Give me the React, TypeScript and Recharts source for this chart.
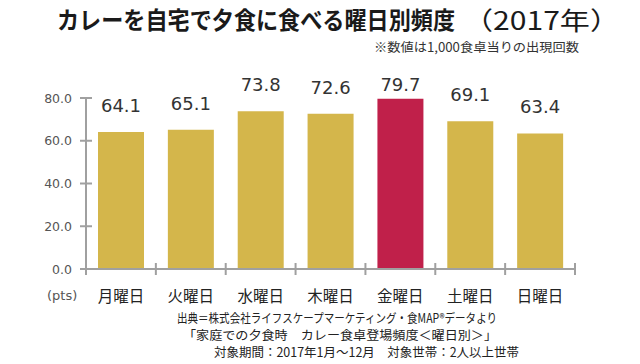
import React from "react";
import { BarChart, Bar, XAxis, YAxis, Cell, LabelList } from "recharts";

const days = ["月曜日", "火曜日", "水曜日", "木曜日", "金曜日", "土曜日", "日曜日"];
const counts = [64.1, 65.1, 73.8, 72.6, 79.7, 69.1, 63.4];
const yTicks = [0, 20, 40, 60, 80];

const title = "カレーを自宅で夕食に食べる曜日別頻度";
const titleYear = "（2017年）";
const note = "※数値は1,000食卓当りの出現回数";
const unit = "(pts)";
const sourceLines = [
  "出典＝株式会社ライフスケープマーケティング・食MAP®データより",
  "「家庭での夕食時　カレー食卓登場頻度＜曜日別＞」",
  "対象期間：2017年1月～12月　対象世帯：2人以上世帯",
];

const rows = days.map((day, i) => ({ day, count: counts[i] }));
const peak = Math.max(...counts);

const JP = '"Noto Sans CJK JP", "Noto Sans", sans-serif';
const NUM = '"DejaVu Sans", Verdana, sans-serif';
const AXIS = "#a0a0a0";
const GOLD = "#d4b64b";
const RED = "#c0204a";

// category labels, with the crossing tick marks on the category edges
function DayTick(props: any) {
  const { payload, index, visibleTicksCount } = props;
  const x = Number(props.x);
  const y = Number(props.y);
  const half = Number(props.width) / visibleTicksCount / 2;
  const last = index === visibleTicksCount - 1;
  return (
    <g>
      <path d={`M${x - half},${y - 6}V${y + 6}`} stroke={AXIS} strokeWidth={2} fill="none" />
      {last && <path d={`M${x + half},${y - 6}V${y + 6}`} stroke={AXIS} strokeWidth={2} fill="none" />}
      <text x={x} y={y + 26} textAnchor="middle" dominantBaseline="central" fontFamily={JP} fontSize={15.5} fill="#222">
        {payload.value}
      </text>
    </g>
  );
}

function ValueTick(props: any) {
  const { payload } = props;
  const x = Number(props.x);
  const y = Number(props.y);
  return (
    <g>
      <path d={`M${x - 6},${y}H${x + 6}`} stroke={AXIS} strokeWidth={2} fill="none" />
      <text x={x - 14} y={y} textAnchor="end" dominantBaseline="central" fontFamily={NUM} fontSize={12.5} fill="#555">
        {Number(payload.value).toFixed(1)}
      </text>
    </g>
  );
}

function BarValue(props: any) {
  const { x, y, width, value } = props;
  const cy = Math.max(Number(y) - 26.5, 84);
  return (
    <text x={Number(x) + Number(width) / 2} y={cy} textAnchor="middle" dominantBaseline="central" fontFamily={NUM} fontSize={18} fill="#333">
      {Number(value).toFixed(1)}
    </text>
  );
}

export default function App() {
  return (
    <div style={{ position: "absolute", left: 0, top: 0, width: 640, height: 364, background: "#fff" }}>
      <BarChart
        width={640}
        height={364}
        data={rows}
        margin={{ top: 98, right: 65, bottom: 0, left: 0 }}
        barCategoryGap={12}
      >
        <XAxis
          dataKey="day"
          height={95}
          tickLine={false}
          tickSize={0}
          tickMargin={0}
          axisLine={{ stroke: AXIS, strokeWidth: 2 }}
          tick={(p: any) => <DayTick {...p} />}
          interval={0}
        />
        <YAxis
          width={86}
          domain={[0, 80]}
          ticks={yTicks}
          tickLine={false}
          tickSize={0}
          tickMargin={0}
          axisLine={{ stroke: AXIS, strokeWidth: 2 }}
          tick={(p: any) => <ValueTick {...p} />}
        />
        <Bar dataKey="count" isAnimationActive={false}>
          {rows.map((r) => (
            <Cell key={r.day} fill={r.count === peak ? RED : GOLD} />
          ))}
          <LabelList dataKey="count" content={(p: any) => <BarValue {...p} />} />
        </Bar>
      </BarChart>
      <svg width={640} height={364} style={{ position: "absolute", left: 0, top: 0, pointerEvents: "none" }}>
        <text x={57} y={29} fontFamily={JP} fontWeight={700} fontSize={24} fill="#1a1a1a" textLength={398} lengthAdjust="spacingAndGlyphs">
          {title}
        </text>
        <text x={463} y={30} fontFamily={JP} fontSize={25} fill="#1a1a1a" textLength={157} lengthAdjust="spacingAndGlyphs">
          {titleYear}
        </text>
        <text x={374} y={52} fontFamily={JP} fontSize={12.5} fill="#333" textLength={205} lengthAdjust="spacingAndGlyphs">
          {note}
        </text>
        <text x={47} y={295} dominantBaseline="central" fontFamily={NUM} fontSize={13} fill="#555">
          {unit}
        </text>
        <text x={177} y={323} fontFamily={JP} fontSize={12.5} fill="#222" textLength={320} lengthAdjust="spacingAndGlyphs">
          {sourceLines[0]}
        </text>
        <text x={183} y={340} fontFamily={JP} fontSize={12.5} fill="#222" textLength={314} lengthAdjust="spacingAndGlyphs">
          {sourceLines[1]}
        </text>
        <text x={214} y={357} fontFamily={JP} fontSize={12.5} fill="#222" textLength={305} lengthAdjust="spacingAndGlyphs">
          {sourceLines[2]}
        </text>
      </svg>
    </div>
  );
}
